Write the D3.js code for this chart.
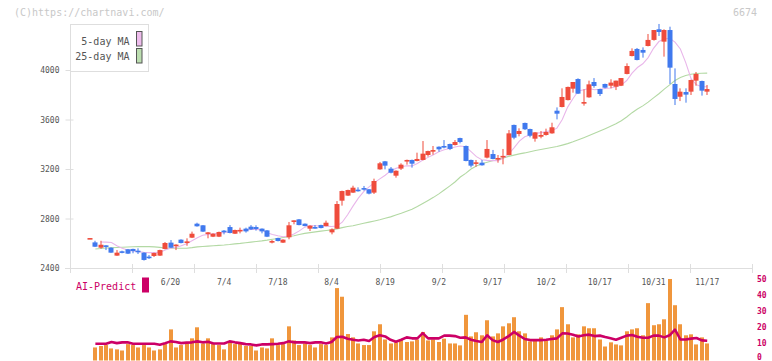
<!DOCTYPE html>
<meta charset="utf-8">
<script src="https://d3js.org/d3.v7.min.js"></script>
<style>
  body { margin: 0; background: #fff; }
  svg { display: block; font-family: "DejaVu Sans Mono", monospace; }
</style>
<div id="chart"></div>
<script>
// daily candles, index 0 .. 115 (last one is 11/17)
const opens = [2638,2607,2564,2583,2564,2500,2535,2551,2554,2540,2524,2492,2497,2500,2554,2605,2583,2629,2610,2645,
  2758,2745,2677,2653,2653,2702,2731,2677,2705,2718,2734,2731,2718,2704,2607,2642,2605,2648,2772,2793,
  2758,2718,2731,2747,2739,2688,2718,2944,2985,3009,3033,3046,3036,3009,3197,3262,3203,3146,3203,3262,
  3273,3265,3273,3313,3348,3380,3386,3402,3394,3450,3386,3273,3246,3251,3292,3321,3281,3302,3313,3556,
  3483,3572,3523,3445,3461,3475,3488,3671,3701,3757,3849,3927,3737,3779,3903,3846,3887,3873,3865,3873,
  3968,4113,4170,4162,4194,4243,4329,4229,4323,3887,3784,3822,3825,3914,3911,3825];
const highs = [2642,2620,2620,2585,2567,2545,2540,2554,2556,2559,2527,2505,2524,2548,2610,2626,2592,2632,2640,2694,
  2766,2747,2691,2680,2694,2707,2747,2710,2726,2726,2747,2745,2720,2707,2626,2645,2632,2772,2785,2796,
  2760,2745,2747,2750,2783,2720,2941,3025,3033,3065,3052,3063,3038,3122,3257,3265,3216,3189,3246,3276,
  3276,3332,3426,3348,3386,3383,3434,3405,3434,3453,3390,3276,3273,3273,3434,3354,3313,3362,3515,3559,
  3529,3575,3526,3499,3507,3526,3574,3698,3852,3866,3903,3933,3844,3914,3935,3849,3890,3925,3914,3935,
  4054,4175,4178,4183,4291,4323,4372,4329,4350,4013,3852,3852,3922,3984,3914,3879];
const lows = [2638,2570,2556,2545,2522,2498,2519,2513,2519,2513,2460,2473,2489,2497,2551,2562,2545,2599,2580,2642,
  2734,2691,2640,2650,2650,2672,2680,2675,2680,2686,2707,2702,2680,2650,2599,2615,2602,2632,2753,2745,
  2737,2699,2718,2720,2737,2672,2715,2904,2982,3006,3017,3025,2995,2998,3194,3197,3165,3130,3192,3235,
  3211,3262,3270,3300,3316,3340,3367,3353,3390,3407,3262,3213,3219,3227,3286,3278,3251,3238,3310,3440,
  3464,3515,3456,3421,3448,3470,3485,3601,3698,3754,3817,3806,3712,3776,3857,3790,3852,3852,3838,3870,
  3965,4110,4078,4100,4191,4237,4275,4108,3887,3717,3749,3736,3798,3873,3793,3798];
const closes = [2642,2572,2588,2572,2524,2524,2527,2516,2537,2535,2465,2484,2521,2545,2602,2564,2589,2602,2615,2677,
  2737,2694,2688,2677,2691,2694,2683,2707,2708,2696,2712,2715,2696,2653,2618,2618,2629,2745,2785,2747,
  2739,2742,2726,2723,2766,2712,2917,3022,3030,3049,3028,3038,3001,3103,3246,3227,3170,3186,3235,3273,
  3243,3281,3324,3345,3353,3359,3375,3362,3418,3418,3265,3227,3254,3230,3362,3281,3289,3306,3488,3453,
  3507,3521,3469,3496,3475,3499,3537,3647,3782,3863,3903,3809,3741,3884,3871,3806,3857,3898,3914,3935,
  4032,4154,4081,4140,4243,4323,4307,4323,4019,3766,3825,3801,3919,3968,3833,3846];

const ma5 = [null,null,2610,2609,2606,2580,2560,2546,2538,2532,2527,2524,2524,2526,2545,2560,2565,2580,2596,2620,
  2645,2664,2672,2676,2680,2687,2692,2700,2703,2707,2711,2712,2708,2685,2670,2660,2653,2658,2674,2700,
  2730,2742,2742,2740,2738,2735,2740,2770,2830,2900,2965,3017,3055,3090,3120,3150,3185,3205,3218,3226,
  3225,3245,3272,3294,3315,3340,3356,3365,3378,3386,3380,3340,3300,3275,3270,3268,3268,3286,3320,3370,
  3425,3460,3475,3488,3494,3502,3510,3530,3600,3700,3770,3830,3840,3850,3840,3844,3850,3855,3865,3878,
  3915,3975,4020,4050,4100,4175,4230,4250,4256,4225,4170,4060,3930,3880,3866,3865];
const ma25 = [null,2554,2557,2561,2564,2566,2568,2570,2572,2573,2573,2573,2571,2567,2562,2559,2559,2559,2560,2565,
  2571,2574,2577,2580,2583,2586,2590,2595,2599,2604,2609,2614,2619,2625,2632,2639,2646,2653,2660,2670,
  2680,2686,2692,2698,2703,2708,2716,2726,2735,2742,2752,2762,2771,2780,2790,2802,2813,2828,2842,2858,
  2875,2897,2921,2946,2971,2999,3030,3062,3095,3135,3165,3200,3225,3242,3255,3266,3275,3290,3302,3312,
  3322,3330,3340,3350,3358,3366,3374,3382,3393,3405,3420,3437,3453,3470,3488,3507,3526,3545,3565,3590,
  3620,3655,3685,3710,3740,3775,3808,3845,3880,3915,3940,3955,3965,3972,3974,3975];

// lower panel
const volume = [null,6.9,7.8,8.4,6.3,5.7,5.0,9.0,8.4,6.9,8.4,6.9,5.0,5.7,9.0,18.2,6.9,8.4,9.4,12.6,
  19.5,9.4,12.6,9.0,8.4,5.7,9.9,9.0,9.9,7.8,7.8,5.0,6.9,6.3,12.6,8.4,9.0,20.1,11.3,8.4,
  9.4,8.4,6.9,9.0,8.4,13.2,44.0,38.6,15.3,13.2,9.4,8.4,8.4,17.0,21.4,11.9,9.4,10.1,11.5,10.3,
  10.7,11.9,16.6,11.3,11.9,10.3,12.4,9.4,9.4,8.2,27.3,13.8,16.4,14.5,23.9,13.8,15.7,20.1,22.0,25.8,
  17.0,15.7,10.7,11.1,13.2,11.3,14.5,18.2,32.1,21.4,13.2,15.1,20.1,18.9,18.9,11.9,7.5,10.1,8.8,8.2,
  17.0,18.2,18.9,14.5,34.6,20.8,21.4,24.5,49.7,33.3,21.4,14.5,15.1,8.8,13.2,9.4];
const aiPredict = [null,9.2,9.2,9.2,10.3,9.6,10.1,10.1,9.2,9.2,9.2,9.2,9.2,8.6,9.6,10.7,10.3,9.6,9.9,10.1,
  10.7,10.1,10.5,9.4,9.4,9.4,10.7,10.1,9.6,9.0,8.8,8.2,8.8,8.8,9.0,9.2,9.6,10.7,10.1,10.1,
  10.1,9.6,10.1,10.1,9.4,10.3,13.4,13.6,12.4,11.7,11.3,11.7,10.9,13.4,14.5,13.8,11.7,10.5,11.7,13.2,
  12.6,12.6,15.9,12.6,12.6,12.6,14.3,14.3,14.0,13.0,13.2,11.7,10.9,10.3,14.5,11.5,10.3,11.9,14.0,16.6,
  14.3,12.2,11.5,11.5,11.5,11.7,12.2,12.6,15.7,15.6,14.9,13.8,14.5,14.9,14.0,14.3,13.4,12.6,11.7,13.0,
  14.3,14.7,13.6,13.0,13.0,14.3,14.3,13.2,14.5,18.0,11.9,11.9,12.4,12.8,11.3,11.1];

const dateLabels = [[15,"6/20"],[25,"7/4"],[35,"7/18"],[45,"8/4"],[55,"8/19"],[65,"9/2"],
  [75,"9/17"],[85,"10/2"],[95,"10/17"],[105,"10/31"],[115,"11/17"]];
const priceTicks = [2400, 2800, 3200, 3600, 4000];
const volTicks = [0, 10, 20, 30, 40, 50];

const width = 772, height = 361;
const upColor = "#ef4c3c", downColor = "#4079ee";
const gridColor = "#dedede";

const svg = d3.select("#chart").append("svg")
  .attr("width", width)
  .attr("height", height);

const x = d3.scaleLinear().domain([0, closes.length - 1]).range([90, 707.2]);
const y = d3.scaleLinear().domain([2400, 4000]).range([268, 70]);
const yVol = d3.scaleLinear().domain([0, 50]).range([358.5, 278.5]);

// watermark + code
svg.append("text").attr("x", 14).attr("y", 16)
  .attr("font-size", "10px").attr("fill", "#c8c8c8")
  .text("(C)https://chartnavi.com/");
svg.append("text").attr("x", 757).attr("y", 16).attr("text-anchor", "end")
  .attr("font-size", "10px").attr("fill", "#c8c8c8")
  .text("6674");

// frame lines
svg.append("line").attr("x1", 70.5).attr("x2", 70.5).attr("y1", 24).attr("y2", 268)
  .attr("stroke", gridColor);
svg.append("line").attr("x1", 65).attr("x2", 752.5).attr("y1", 268.5).attr("y2", 268.5)
  .attr("stroke", gridColor);

// vertical tick marks on the time axis (every 62px)
svg.append("g").selectAll("line")
  .data(d3.range(12))
  .join("line")
  .attr("x1", k => Math.round(70 + k * 62.03) + 0.5)
  .attr("x2", k => Math.round(70 + k * 62.03) + 0.5)
  .attr("y1", 264).attr("y2", 273)
  .attr("stroke", gridColor);

// price axis
const yAxis = svg.append("g")
  .attr("transform", "translate(70.5,0)")
  .call(d3.axisLeft(y).tickValues(priceTicks).tickFormat(d3.format("d"))
    .tickSizeInner(5).tickSizeOuter(0).tickPadding(6));
yAxis.select(".domain").remove();
yAxis.selectAll("line").attr("x1", 3).attr("x2", -5).attr("stroke", gridColor);
yAxis.selectAll("text")
  .attr("font-family", "DejaVu Sans Mono, monospace")
  .attr("font-size", "8px").attr("fill", "#555");

// date labels
svg.append("g").selectAll("text")
  .data(dateLabels)
  .join("text")
  .attr("x", d => x(d[0]))
  .attr("y", 285)
  .attr("text-anchor", "middle")
  .attr("font-size", "8px")
  .attr("fill", "#555")
  .text(d => d[1]);

// moving averages
const maLine = d3.line()
  .defined(d => d != null)
  .x((d, i) => x(i))
  .y(d => y(d));
svg.append("path").datum(ma25).attr("d", maLine)
  .attr("fill", "none").attr("stroke", "#b3d9a4").attr("stroke-width", 1.1);
svg.append("path").datum(ma5).attr("d", maLine)
  .attr("fill", "none").attr("stroke", "#e9b6ea").attr("stroke-width", 1.1);

// candles
const idx = d3.range(closes.length);
const candles = svg.append("g").selectAll("g")
  .data(idx)
  .join("g");

candles.append("rect")
  .attr("x", i => Math.round(x(i)) - 0.5)
  .attr("width", 1)
  .attr("y", i => y(highs[i]))
  .attr("height", i => Math.max(1, y(lows[i]) - y(highs[i])))
  .attr("fill", i => closes[i] >= opens[i] ? upColor : downColor);

candles.append("rect")
  .attr("x", i => Math.round(x(i)) - 2.5)
  .attr("width", 5)
  .attr("y", i => y(Math.max(opens[i], closes[i])))
  .attr("height", i => Math.max(1.6, Math.abs(y(opens[i]) - y(closes[i]))))
  .attr("fill", i => closes[i] >= opens[i] ? upColor : downColor);

// legend
const legend = svg.append("g");
legend.append("rect").attr("x", 70.5).attr("y", 24.5).attr("width", 78).attr("height", 47)
  .attr("fill", "#fff").attr("stroke", gridColor);
legend.append("text").attr("x", 129.5).attr("y", 44.5).attr("text-anchor", "end")
  .attr("font-size", "10px").attr("fill", "#555").text("5-day MA");
legend.append("text").attr("x", 129.5).attr("y", 60).attr("text-anchor", "end")
  .attr("font-size", "10px").attr("fill", "#555").text("25-day MA");
legend.append("rect").attr("x", 136.5).attr("y", 31.5).attr("width", 5.5).attr("height", 14.5)
  .attr("fill", "#eebcec").attr("stroke", "#555");
legend.append("rect").attr("x", 136.5).attr("y", 48.5).attr("width", 5.5).attr("height", 14.5)
  .attr("fill", "#bcdeb0").attr("stroke", "#555");

// volume bars
svg.append("g").selectAll("rect")
  .data(idx.filter(i => volume[i] != null))
  .join("rect")
  .attr("x", i => Math.round(x(i)) - 2)
  .attr("width", 4)
  .attr("y", i => yVol(volume[i]))
  .attr("height", i => yVol(0) - yVol(volume[i]) + 2)
  .attr("fill", "#f0963c");

// AI-Predict line
svg.append("path").datum(aiPredict)
  .attr("d", d3.line().defined(d => d != null).x((d, i) => x(i)).y(d => yVol(d)))
  .attr("fill", "none").attr("stroke", "#cc0066").attr("stroke-width", 2.6)
  .attr("stroke-linejoin", "round");

svg.append("text").attr("x", 76).attr("y", 289.5)
  .attr("font-size", "10px").attr("fill", "#cc0066").text("AI-Predict");
svg.append("rect").attr("x", 142).attr("y", 277.5).attr("width", 7).attr("height", 15)
  .attr("fill", "#cc0066");

// right axis for lower panel
const vAxis = svg.append("g")
  .attr("transform", "translate(756,0)")
  .call(d3.axisRight(yVol).tickValues(volTicks).tickSize(0).tickPadding(1));
vAxis.select(".domain").remove();
vAxis.selectAll("text")
  .attr("font-family", "DejaVu Sans Mono, monospace")
  .attr("font-size", "8px").attr("font-weight", "bold").attr("fill", "#cc0066")
  .attr("dy", d => d === 0 ? "0.1em" : "0.32em");
</script>
